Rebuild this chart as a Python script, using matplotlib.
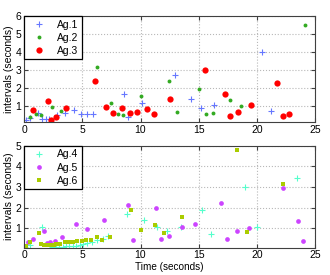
import numpy as np
import matplotlib
matplotlib.use('Agg')
import matplotlib.pyplot as plt

plt.rcParams['font.family'] = ['Liberation Sans', 'DejaVu Sans']

# top panel: agents 1-3
ag1_x = [0.15, 0.51, 1.2, 1.58, 1.86, 2.14, 2.86, 3.49, 4.29, 4.92, 5.43, 5.95,
         8.57, 8.94, 10.14, 12.93, 14.3, 15.21, 16.35, 20.43, 21.17]
ag1_y = [0.22, 0.32, 0.63, 0.26, 0.26, 0.26, 0.5, 0.63, 0.78, 0.59, 0.54, 0.54,
         1.67, 0.41, 1.15, 2.72, 1.41, 0.87, 1.09, 4.02, 0.72]

ag2_x = [0.49, 1.0, 1.49, 2.43, 3.2, 6.29, 7.49, 8.06, 8.51, 10.03, 12.42, 13.13,
         15.0, 15.64, 16.26, 17.65, 18.65, 24.14]
ag2_y = [0.41, 0.54, 0.5, 0.93, 0.74, 3.15, 1.15, 0.56, 0.5, 1.56, 2.39, 0.68,
         1.93, 0.59, 0.63, 1.33, 1.0, 5.48]

ag3_x = [0.8, 2.09, 2.35, 2.78, 3.63, 6.06, 7.0, 7.6, 8.43, 9.09, 9.71, 10.54,
         11.14, 12.5, 15.5, 17.28, 17.71, 18.4, 19.45, 21.74, 22.23, 22.79]
ag3_y = [0.78, 1.28, 0.24, 0.41, 0.87, 2.41, 0.93, 0.63, 0.87, 0.63, 0.65, 0.82,
         0.56, 1.37, 3.0, 1.65, 0.44, 0.67, 1.04, 2.26, 0.48, 0.56]

# bottom panel: agents 4-6
ag4_x = [0.11, 0.48, 1.5, 2.39, 2.7, 3.0, 3.3, 3.6, 3.9, 4.2, 4.5, 4.8, 5.1, 5.4,
         5.8, 6.3, 6.8, 7.23, 8.85, 10.28, 11.42, 12.27, 13.47, 15.26, 16.03,
         18.94, 20.0, 23.42]
ag4_y = [0.11, 0.19, 1.08, 0.1, 0.1, 0.1, 0.11, 0.12, 0.13, 0.14, 0.16, 0.18,
         0.22, 0.27, 0.33, 0.43, 0.5, 0.65, 1.68, 1.41, 1.08, 0.87, 1.08, 1.89,
         0.73, 2.98, 1.04, 3.46]

ag5_x = [0.31, 0.8, 1.68, 1.96, 2.25, 2.68, 3.24, 4.47, 5.44, 6.84, 8.94, 9.37,
         11.31, 11.78, 12.42, 13.55, 14.72, 16.92, 17.43, 18.29, 19.34, 22.27,
         23.56, 23.98]
ag5_y = [0.32, 0.46, 0.89, 0.31, 0.32, 0.39, 0.57, 1.23, 0.95, 1.42, 2.14, 0.44,
         1.97, 0.47, 0.65, 1.08, 1.2, 2.22, 0.49, 0.87, 1.03, 2.95, 1.36, 0.39]

ag6_x = [0.2, 0.48, 1.31, 1.45, 1.68, 1.91, 2.1, 2.31, 2.53, 2.76, 3.05, 3.53,
         3.9, 4.24, 4.58, 4.96, 5.32, 5.72, 6.24, 6.66, 7.35, 9.17, 10.08, 11.25,
         12.05, 13.59, 18.29, 19.12, 22.23]
ag6_y = [0.16, 0.35, 0.76, 0.23, 0.2, 0.19, 0.19, 0.2, 0.21, 0.23, 0.25, 0.35,
         0.36, 0.36, 0.37, 0.38, 0.41, 0.45, 0.57, 0.44, 0.6, 1.88, 0.92, 1.17,
         0.79, 1.56, 4.77, 0.84, 3.16]


def style_axes(ax, ymin, ymax):
    ax.set_xlim(0, 25)
    ax.set_ylim(ymin, ymax)
    ax.set_xticks(np.arange(0, 26, 5))
    ax.set_yticks(np.arange(1, int(ymax) + 1))
    ax.grid(True, color='#b8b8b8', linestyle=':', linewidth=0.8)
    ax.tick_params(direction='in', top=True, right=True, length=3,
                   labelsize=7.5, pad=2, color='#404040')
    for s in ax.spines.values():
        s.set_color('#404040')
        s.set_linewidth(0.8)
    ax.set_ylabel('intervals (seconds)', fontsize=7.5, labelpad=1)


fig = plt.figure(figsize=(3.3, 2.75), dpi=100)
ax1 = fig.add_axes([0.073, 0.557, 0.882, 0.385])
ax2 = fig.add_axes([0.073, 0.100, 0.882, 0.370])

ax1.plot(ag1_x, ag1_y, '+', color='#6677ff', ms=4, mew=0.8, label='Ag.1')
ax1.plot(ag2_x, ag2_y, 'o', color='#33aa22', ms=2.8, mew=0, label='Ag.2')
ax1.plot(ag3_x, ag3_y, 'o', color='#ff0000', ms=4.5, mew=0, label='Ag.3')
style_axes(ax1, 0.13, 6)

ax2.plot(ag4_x, ag4_y, '+', color='#55ffcc', ms=4, mew=0.8, label='Ag.4')
ax2.plot(ag5_x, ag5_y, 'o', color='#cc44ff', ms=3.4, mew=0, label='Ag.5')
ax2.plot(ag6_x, ag6_y, 's', color='#aacc00', ms=2.4, mew=0, label='Ag.6')
style_axes(ax2, 0.07, 5)
ax2.set_xlabel('Time (seconds)', fontsize=7.2, labelpad=1)

for ax in (ax1, ax2):
    leg = ax.legend(loc='upper left', fontsize=7.5, borderaxespad=0,
                    fancybox=False, framealpha=1, edgecolor='black',
                    handlelength=2.2, handletextpad=0.6, borderpad=0.35,
                    labelspacing=0.3, markerscale=1.0)
    leg.get_frame().set_linewidth(0.9)

fig.savefig('out.png', dpi=100)
